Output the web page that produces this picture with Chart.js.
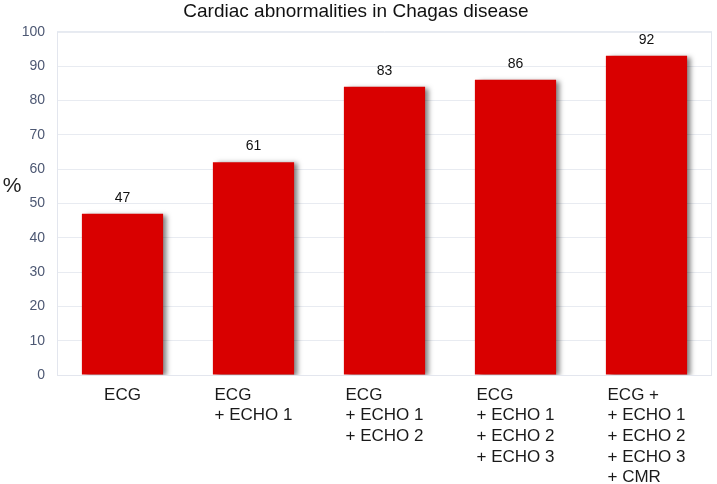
<!DOCTYPE html>
<html>
<head>
<meta charset="utf-8">
<script src="https://cdn.jsdelivr.net/npm/chart.js@4.4.0/dist/chart.umd.min.js"></script>
<style>
  html, body { margin: 0; padding: 0; background: #fff; }
  #wrap { width: 717px; height: 484px; }
</style>
</head>
<body>
<div id="wrap"><canvas id="chart"></canvas></div>
<script>
const categories = [
    ['ECG'],
    ['ECG', '+ ECHO 1'],
    ['ECG', '+ ECHO 1', '+ ECHO 2'],
    ['ECG', '+ ECHO 1', '+ ECHO 2', '+ ECHO 3'],
    ['ECG +', '+ ECHO 1', '+ ECHO 2', '+ ECHO 3', '+ CMR']
];
const barHeights = [47, 62, 84, 86, 93];
const valueLabels = ['47', '61', '83', '86', '92'];
const yTicks = [0, 10, 20, 30, 40, 50, 60, 70, 80, 90, 100];

const FONT = '"Liberation Sans", Arial, Helvetica, sans-serif';

// soft grey shadow under the bars
const barShadow = {
    id: 'barShadow',
    beforeDatasetsDraw(chart) {
        const ctx = chart.ctx;
        ctx.save();
        ctx.shadowColor = 'rgba(0,0,0,0.5)';
        ctx.shadowBlur = 5;
        ctx.shadowOffsetX = 4;
        ctx.shadowOffsetY = 1;
    },
    afterDatasetsDraw(chart) {
        chart.ctx.restore();
    }
};

// frame, value labels, x labels and the % sign
const extras = {
    id: 'extras',
    afterDraw(chart) {
        const ctx = chart.ctx;
        const area = chart.chartArea;
        const xScale = chart.scales.x;
        ctx.save();

        ctx.strokeStyle = '#e3e6ee';
        ctx.lineWidth = 1;
        ctx.strokeRect(area.left + 0.5, area.top + 0.5, area.right - area.left - 1, area.bottom - area.top);

        const meta = chart.getDatasetMeta(0);
        ctx.fillStyle = '#111';
        ctx.font = '14px ' + FONT;
        ctx.textAlign = 'center';
        ctx.textBaseline = 'bottom';
        meta.data.forEach((bar, i) => {
            ctx.fillText(valueLabels[i], bar.x, bar.y - 9);
        });

        ctx.font = '17px ' + FONT;
        ctx.textAlign = 'left';
        ctx.textBaseline = 'middle';
        ctx.fillStyle = '#1a1a1a';
        categories.forEach((lines, i) => {
            const cx = xScale.getPixelForValue(i);
            const w = Math.max(...lines.map(l => ctx.measureText(l).width));
            const left = cx - w / 2;
            lines.forEach((l, j) => {
                ctx.fillText(l, left, area.bottom + 20 + j * 20.7);
            });
        });

        ctx.font = '21px ' + FONT;
        ctx.textAlign = 'center';
        ctx.fillStyle = '#222';
        ctx.fillText('%', 12, 186);
        ctx.restore();
    }
};

new Chart(document.getElementById('chart'), {
    type: 'bar',
    data: {
        labels: categories.map(c => c.join(' ')),
        datasets: [{
            data: barHeights,
            backgroundColor: '#d90000',
            borderWidth: 0,
            barPercentage: 0.62,
            categoryPercentage: 1
        }]
    },
    options: {
        responsive: true,
        maintainAspectRatio: false,
        animation: false,
        layout: { padding: { left: 0, right: 5, top: 0, bottom: 0 } },
        plugins: {
            legend: { display: false },
            tooltip: { enabled: false },
            title: {
                display: true,
                text: 'Cardiac abnormalities in Chagas disease',
                color: '#111',
                font: { family: FONT, size: 19, weight: 'normal' },
                padding: { top: 0, bottom: 9 }
            }
        },
        scales: {
            x: {
                grid: { display: false },
                border: { display: false },
                ticks: { display: false },
                afterFit(scale) { scale.height = 109; }
            },
            y: {
                min: 0,
                max: 100,
                afterBuildTicks(scale) { scale.ticks = yTicks.map(v => ({ value: v })); },
                grid: { color: '#e8ebf1', drawTicks: false },
                border: { display: false },
                ticks: {
                    padding: 12,
                    color: '#4d5873',
                    font: { family: FONT, size: 14 }
                },
                afterFit(scale) { scale.width = 57; }
            }
        }
    },
    plugins: [barShadow, extras]
});
</script>
</body>
</html>
